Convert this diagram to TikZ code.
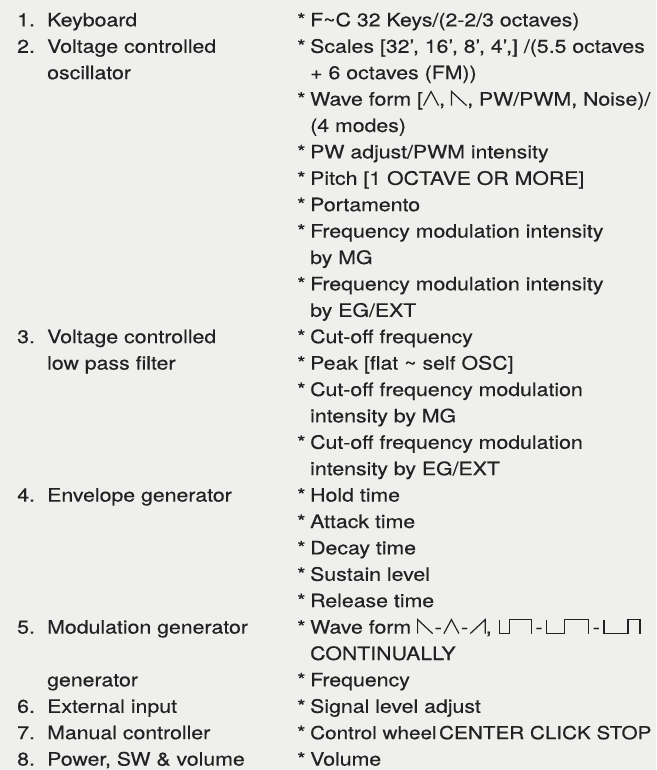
\documentclass[tikz,border=0pt]{standalone}
\usepackage{fontspec}
\setmainfont{TeX Gyre Heros}[FakeStretch=1.15,FakeBold=0.4]
\usetikzlibrary{positioning}
\definecolor{paper}{HTML}{EFEFED}
\definecolor{ink}{HTML}{222222}
\tikzset{wave/.style={draw=ink, line width=1.2pt, line join=miter}}
% small wave symbols set in the text
\newcommand{\wtri}{\tikz[baseline=0pt,x=1pt,y=1pt]\draw[wave] (0,0)--(7.5,14)--(15,0);}
\newcommand{\wsawdn}{\tikz[baseline=0pt,x=1pt,y=1pt]\draw[wave] (0,0)--(0,14)--(15,0);}
\newcommand{\wsawup}{\tikz[baseline=0pt,x=1pt,y=1pt]\draw[wave] (0,0)--(15,14)--(15,0);}
\newcommand{\wpulse}[2]{\tikz[baseline=0pt,x=1pt,y=1pt]\draw[wave] (0,14)--(0,0)--(#1,0)--(#1,14)--(#2,14)--(#2,0);}
\newcommand{\wdash}[1]{\hspace{#1}-\hspace{#1}}
\begin{document}
\begin{tikzpicture}[x=1pt,y=-1pt]
    % distance between two lines
    \def\dy{26.4}
    % text style definition
    \tikzstyle{txt} = [anchor=base west, inner sep=0pt, text=ink,
    	font=\fontsize{18.5}{22}\selectfont];
    \fill[paper] (0,0) rectangle (656,770);
    \useasboundingbox (0,0) rectangle (656,770);
    % left column: parts
    \foreach \i/\n in {1/1,2/2,13/3,19/4,24/5,27/6,28/7,29/8}
    	\node[txt] (num\i) at (17,\i*\dy) {\n.};
    \foreach \i/\t in {1/{Keyboard}, 2/{Voltage controlled}, 3/{oscillator},
    	13/{Voltage controlled}, 14/{low pass filter}, 19/{Envelope generator},
    	24/{Modulation generator}, 26/{generator}, 27/{External input},
    	28/{Manual controller}, 29/{Power, SW \& volume}}
    	\node[txt] (part\i) at (47,\i*\dy) {\t};
    % right column: functions
    \foreach \i in {1,2,4,6,7,8,9,11,13,14,15,17,19,20,21,22,23,24,26,27,28,29}
    	\node[txt] (star\i) at (297,\i*\dy) {*};
    \foreach \i/\t in {
    	1/{F\textasciitilde C 32 Keys/(2-2/3 octaves)},
    	2/{Scales [32', 16', 8', 4',] /(5.5 octaves},
    	3/{+ 6 octaves (FM))},
    	4/{Wave form [\wtri, \wsawdn, PW/PWM, Noise)/},
    	5/{(4 modes)},
    	6/{PW adjust/PWM intensity},
    	7/{Pitch [1 OCTAVE OR MORE]},
    	8/{Portamento},
    	9/{Frequency modulation intensity},
    	10/{by MG},
    	11/{Frequency modulation intensity},
    	12/{by EG/EXT},
    	13/{Cut-off frequency},
    	14/{Peak [flat \textasciitilde\ self OSC]},
    	15/{Cut-off frequency modulation},
    	16/{intensity by MG},
    	17/{Cut-off frequency modulation},
    	18/{intensity by EG/EXT},
    	19/{Hold time},
    	20/{Attack time},
    	21/{Decay time},
    	22/{Sustain level},
    	23/{Release time},
    	24/{Wave form \wsawdn\wdash{1.5pt}\wtri\wdash{1.5pt}\wsawup,\hspace{7pt}\wpulse{10}{32}\wdash{3.5pt}\wpulse{18}{42}\wdash{3.5pt}\wpulse{24}{36}},
    	25/{CONTINUALLY},
    	26/{Frequency},
    	27/{Signal level adjust},
    	28/{{\fontsize{18}{22}\selectfont Control wheel\hspace{2.5pt}CENTER CLICK STOP}},
    	29/{Volume}}
    	\node[txt] (item\i) at (310,\i*\dy) {\t};
\end{tikzpicture}
\end{document}
